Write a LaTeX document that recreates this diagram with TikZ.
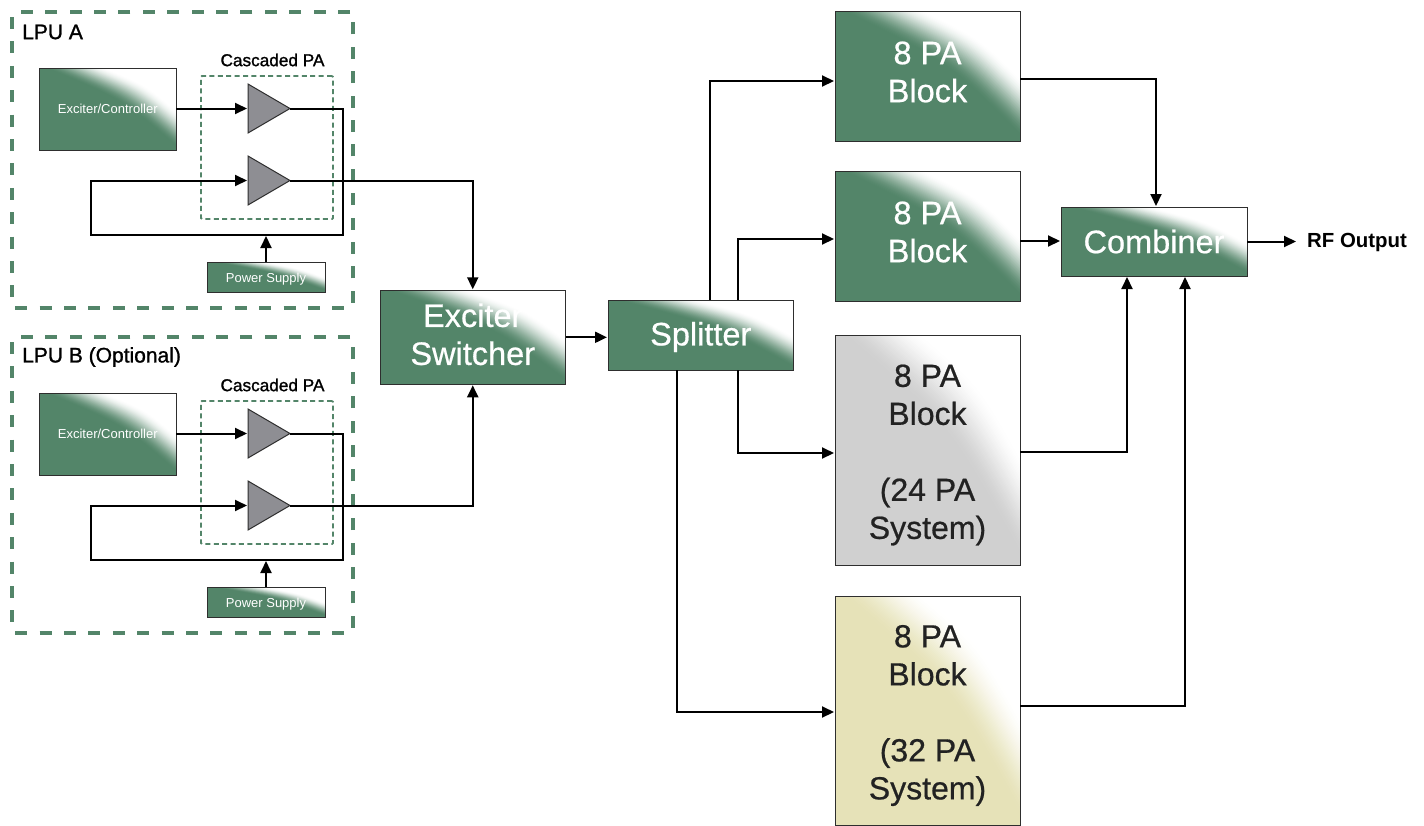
\documentclass[tikz,border=0pt]{standalone}
\usepackage{fontspec}
\setmainfont{Liberation Sans}
\newfontfamily\medfont[FakeBold=1.2]{Liberation Sans}
\newfontfamily\softfont[FakeBold=0.6]{Liberation Sans}
\usetikzlibrary{arrows.meta,shapes.geometric,calc}
\definecolor{pagreen}{HTML}{538569}
\definecolor{pagray}{HTML}{D0D0D0}
\definecolor{pakhaki}{HTML}{E6E2B8}
\definecolor{triangray}{HTML}{8E8E93}
\definecolor{boxline}{HTML}{2E2E2E}
\definecolor{darktext}{HTML}{222222}
\newcommand{\gradfill}[1]{%
  \fill[#1] (path picture bounding box.south west) rectangle (path picture bounding box.north east);
  \foreach \i in {0,...,39}{%
    \pgfmathsetmacro{\sv}{0.03+0.45*\i/39}%
    \pgfmathsetmacro{\cv}{0.5+\sv/2+0.18*(0.5-\sv/2)}%
    \pgfmathsetmacro{\mixv}{100*(1-(\i/39)*(\i/39)*(3-2*\i/39))}%
    \fill[color=#1!\mixv!white]
      ($(path picture bounding box.north west)!\sv!(path picture bounding box.north east)$)
      .. controls ($(path picture bounding box.south west)!\cv!(path picture bounding box.north east)$)
      .. ($(path picture bounding box.south east)!\sv!(path picture bounding box.north east)$)
      -- (path picture bounding box.north east) -- cycle;
  }%
}
\tikzset{
  x=1pt,y=-1pt,
  gradbox/.style={draw=boxline,line width=1pt,rectangle,inner sep=0pt,outer sep=0pt,align=center,
    path picture={\gradfill{#1}}},
  bigbox/.style={gradbox=pagreen},
  paler/.style={gradbox=#1},
  wtext/.style 2 args={label={[yshift=#1,align=center,inner sep=0pt,outer sep=0pt,text=white,
    font=\fontsize{32.5}{38}\softfont]center:#2}},
  dtext/.style 2 args={label={[yshift=#1,align=center,inner sep=0pt,outer sep=0pt,text=darktext,
    font=\fontsize{32}{38}\softfont]center:#2}},
  stext/.style 2 args={label={[yshift=#1,align=center,inner sep=0pt,outer sep=0pt,text=white,
    font=\fontsize{13}{15}\selectfont]center:#2}},
  smallbox/.style={gradbox=pagreen},
  wire/.style={draw=black,line width=2pt},
  flow/.style={wire,-{Triangle[length=12pt,width=11pt]},shorten >=1pt},
  outerdash/.style={draw=pagreen,line width=3.6pt,dash pattern=on 12pt off 12.4pt,rounded corners=3pt},
  innerdash/.style={draw=pagreen,line width=1.8pt,dash pattern=on 5pt off 3.4pt,rounded corners=1pt},
  amp/.style={isosceles triangle,isosceles triangle stretches,draw=boxline,fill=triangray,line width=1pt,
    minimum width=49pt,minimum height=42pt,inner sep=0pt,outer sep=0pt,anchor=lower side},
  lputitle/.style={anchor=west,inner sep=0pt,font=\fontsize{21}{24}\medfont},
  castitle/.style={anchor=center,inner sep=0pt,font=\fontsize{17.2}{20}\medfont},
}
\newcommand{\lpu}[3]{%
  \begin{scope}[shift={(0,#2)}]
    \node[outerdash,draw,minimum width=341pt,minimum height=296pt,inner sep=0pt,outer sep=0pt] (#1frame) at (182.5,160) {};
    \node[lputitle] (#1title) at (22,32) {#3};
    \node[castitle] (#1cap) at (272.5,60) {Cascaded PA};
    \node[innerdash,draw,minimum width=132pt,minimum height=143pt,inner sep=0pt,outer sep=0pt] (#1cas) at (267,147.5) {};
    \node[smallbox,stext={0pt}{Exciter/Controller},minimum width=136.5pt,minimum height=82pt] (#1ec) at (107.75,109) {};
    \node[amp] (#1t1) at (248,108.5) {};
    \node[amp] (#1t2) at (248,180.5) {};
    \node[smallbox,stext={-2pt}{Power Supply},minimum width=118pt,minimum height=30pt] (#1ps) at (266,277) {};
    \coordinate (#1br) at (342.5,235);
    \coordinate (#1bl) at (90.5,235);
    \draw[flow] (#1ec.east |- #1t1.lower side) -- (#1t1.lower side);
    \draw[flow] (#1t1.apex) -| (#1br) -- (#1bl) |- (#1t2.lower side);
    \draw[flow] (#1ps.north) -- (#1ps.north |- #1br);
  \end{scope}%
}
\begin{document}
\begin{tikzpicture}
\useasboundingbox (0,0) rectangle (1424,825);
\fill[white] (0,0) rectangle (1424,825);

\lpu{A}{0}{LPU A}
\lpu{B}{325}{LPU B (Optional)}

\node[bigbox,wtext={3pt}{Exciter\\Switcher},minimum width=185.5pt,minimum height=94pt] (sw) at (472.75,337.3) {};
\node[bigbox,wtext={-2pt}{Splitter},minimum width=185.5pt,minimum height=70pt] (spl) at (700.75,335) {};
\node[bigbox,wtext={4pt}{8 PA\\Block},minimum width=185pt,minimum height=130pt] (b1) at (927.5,76) {};
\node[bigbox,wtext={4pt}{8 PA\\Block},minimum width=185pt,minimum height=130pt] (b2) at (927.5,236) {};
\node[paler=pagray,dtext={-5pt}{8 PA\\Block\\[38pt](24 PA\\System)},minimum width=185pt,minimum height=230pt] (b3) at (927.5,450) {};
\node[paler=pakhaki,dtext={-5pt}{8 PA\\Block\\[38pt](32 PA\\System)},minimum width=185pt,minimum height=229pt] (b4) at (927.5,710.5) {};
\node[bigbox,wtext={0pt}{Combiner},minimum width=186pt,minimum height=69pt] (comb) at (1154,241.5) {};
\node[anchor=west,inner sep=0pt,font=\fontsize{20.4}{24}\selectfont\bfseries] (rf) at (1307,242.5) {RF Output};

\draw[flow] (At2.apex) -| (sw.north);
\draw[flow] (Bt2.apex) -| (sw.south);
\draw[flow] (sw.east) -- (spl.west |- sw.east);
\draw[flow] ([xshift=8.75pt]spl.north) |- ([yshift=-5pt]b1.west);
\draw[flow] ([xshift=37.25pt]spl.north) |- ([yshift=-3pt]b2.west);
\draw[flow] ([xshift=37.25pt]spl.south) |- ([yshift=-3pt]b3.west);
\draw[flow] ([xshift=-23.75pt]spl.south) |- ([yshift=-1.5pt]b4.west);
\draw[flow] ([yshift=-3pt]b1.east) -| ([xshift=2pt]comb.north);
\draw[flow] ([yshift=-5pt]b2.east) -- (comb.west |- {$(b2.east)+(0,5)$});
\draw[flow] ([yshift=-2pt]b3.east) -| ([xshift=-27pt]comb.south);
\draw[flow] ([yshift=4.5pt]b4.east) -| ([xshift=31pt]comb.south);
\coordinate (rfend) at (1296,241.5);
\draw[flow,shorten >=0pt] (comb.east) -- (rfend);
\end{tikzpicture}
\end{document}
